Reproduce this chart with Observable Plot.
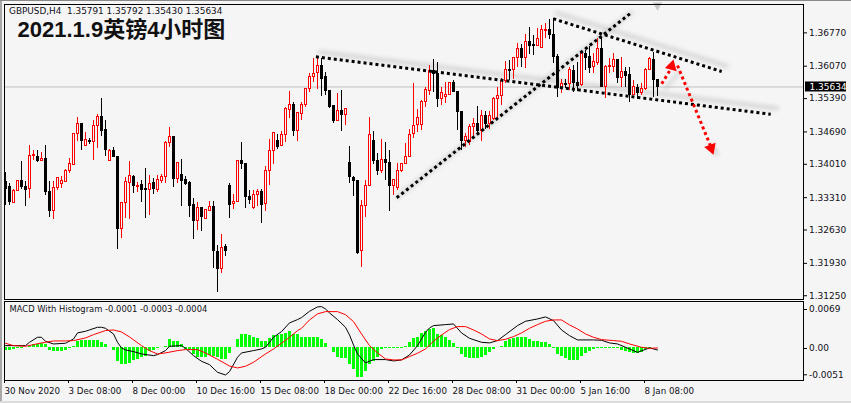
<!DOCTYPE html>
<html><head><meta charset="utf-8">
<script src="https://cdn.jsdelivr.net/npm/d3@7"></script>
<script src="https://cdn.jsdelivr.net/npm/@observablehq/plot@0.6"></script>
<style>
html,body{margin:0;padding:0;background:#f5f5f5;width:851px;height:403px;overflow:hidden}
#main,#macd{position:absolute;left:0}
#main{top:0}#macd{top:300px}
.s{position:absolute;background:#a8a8a8}
</style></head><body>
<div id="main"></div><div id="macd"></div>
<div class="s" style="left:0;top:0;width:2px;height:403px"></div>
<div class="s" style="left:0;top:0;width:851px;height:1px;background:#888"></div>
<div class="s" style="left:0;top:401px;width:851px;height:2px;background:#dcdcdc"></div>
<script>
// price points in 1e-5 units
const opens=[133634,133529,133193,133445,133655,133544,133487,134180,134159,134075,
134132,133439,133025,133517,133601,133634,133865,133991,134651,134861,
134390,134510,134474,134819,135014,134735,134075,134300,134174,132647,
133193,133613,133754,133544,133586,133502,133466,133613,133481,133670,
133739,134453,134594,133697,133796,133691,133628,133166,132815,133097,
132866,133040,133124,132179,131807,132269,133565,133172,133214,134084,
134027,133334,133103,133370,133439,133172,133874,134285,134510,134390,
134630,135155,135266,134705,135071,135260,135596,135839,135923,136085,
135854,135560,135239,134915,135140,135041,134048,133733,133670,132185,
133130,133559,134510,134090,133865,134105,134048,133550,133508,133865,
134021,134168,134642,134831,134831,135323,135560,135980,135911,135377,
135434,135461,135728,135539,135119,134510,134483,134789,134861,134705,
135029,134861,134957,135377,135449,135770,135995,135995,136247,136436,
136238,136574,136511,136490,136457,136820,136841,136736,136274,135617,
135701,135701,135980,135728,135671,136331,136259,136049,136148,136436,
135644,136049,136064,136205,135818,135959,135890,135476,135617,135518,
135587,135995,136211,135791];
const highs=[133844,133613,133475,133680,134069,133649,134405,134300,134300,134252,
134405,133649,133649,133735,133754,133895,134132,134660,134987,134870,
134684,134558,134930,135056,135386,134930,134321,134357,134174,133215,
133739,134069,133770,133634,133670,133922,133775,133706,133775,133796,
134489,134789,134600,134050,134111,133754,133640,133286,133208,133105,
133070,133229,133229,132305,132536,132326,133601,133370,134095,134468,
134030,133460,133460,133475,133481,133964,134525,134675,134630,134699,
135209,135539,135302,135105,135302,135610,135911,136226,136259,136226,
135932,135570,135250,135491,135560,135190,134384,133745,133680,133250,
133670,134987,134699,134231,134531,134468,134300,133695,134021,134035,
134453,134735,135713,135155,135340,135629,136085,136211,136142,135629,
135734,135734,135770,135545,135125,134651,134846,134966,135224,135140,
135119,135119,135407,135629,135806,136169,136190,136255,136553,136520,
136736,136877,136715,136856,136925,136961,137051,137066,136316,135791,
135791,136049,136085,136154,136400,136400,136490,136331,136646,136679,
136075,136226,136343,136215,136259,136049,136049,135770,135686,135713,
136016,136259,136352,135792];
const lows=[133145,133145,133181,133435,133475,133124,133298,134090,134054,134065,
133355,132899,132857,133460,133508,133625,133811,133980,134495,134300,
134380,134426,134090,134342,134594,134174,134065,134150,132227,132452,
132872,132857,133391,133424,133208,132872,132935,133376,133424,133613,
133613,134369,133529,133601,133124,133565,132899,132437,132620,132599,
132855,133013,131828,131324,131723,132074,132872,133067,133205,133901,
133082,133166,133061,133118,132773,133025,133565,134000,134315,134380,
134474,134978,134600,134495,134930,135209,135524,135734,135575,135434,
135455,135188,134873,134905,134705,134831,133613,133334,132116,131849,
132887,133550,134006,133781,133811,133670,133025,133361,133460,133844,
134010,134155,134558,134678,134720,135209,135455,135524,135209,135245,
135281,135455,135524,134720,134300,134369,134399,134579,134615,134489,
134735,134741,134930,134972,135245,135713,135770,135785,136037,136037,
136022,136310,136295,136480,136445,136652,136625,136121,135407,135491,
135596,135560,135524,135545,135644,135980,135911,135911,136085,135629,
135386,135923,135944,135701,135629,135629,135314,135455,135371,135455,
135560,135980,135419,135430];
const closes=[133496,133214,133460,133670,133529,133481,134195,134216,134075,134132,
133424,133025,133517,133727,133670,133880,134021,134651,134861,134510,
134525,134474,134825,135014,134720,134321,134300,134159,132647,133208,
133649,133769,133550,133559,133481,133466,133601,133502,133685,133754,
134468,134594,133697,134042,133670,133607,133145,132815,133097,132914,
133061,133124,132185,131807,132257,132200,133166,133223,134084,134012,
133319,133271,133370,133433,133151,133874,134294,134672,134369,134630,
135176,135266,134705,135098,135266,135596,135854,135911,136085,135797,
135545,135224,134915,135140,135041,135176,133739,133655,132158,133139,
133559,134630,134075,133865,134105,134033,133559,133685,133865,134021,
134168,134630,134819,134987,135323,135575,135980,135911,135377,135518,
135476,135728,135533,135104,134510,134594,134804,134861,134705,135029,
134861,135029,135386,135449,135770,135995,135980,136247,136436,136247,
136574,136490,136499,136646,136835,136841,136736,136259,135617,135701,
135686,135995,135713,135665,136343,136247,136037,136163,136436,135644,
136064,136085,136205,135827,135959,135875,135476,135644,135518,135602,
136001,136226,135785,135634];
const histogram=[-.0005,-.0004,-.0003,-.0002,-.0001,.0001,.0003,.0005,.0006,.0007,.0006,
-.0005,-.0006,-.0006,-.0006,-.0004,-.0001,.0003,.0011,.0013,.0013,
.0013,.0013,.0013,.0009,.0005,0,-.0005,-.0024,-.0029,-.0029,
-.0027,-.0022,-.0021,-.0018,-.0015,-.0006,-.0004,-.0002,0,.0002,
.0014,.0011,.0011,.0006,-.0003,-.0005,-.0012,-.0017,-.0018,-.0017,
-.0013,-.0015,-.0018,-.0021,-.0021,-.0011,0,.0014,.0024,.0024,
.0022,.0019,.0017,.0012,.0012,.0017,.0022,.0022,.0024,.0026,
.0029,.0023,.0024,.0019,.0018,.0018,.0018,.0018,
.0015,.0007,0,-.0009,-.0017,-.0019,-.0019,-.003,-.0039,-.0053,-.0053,-.0042,-.003,-.0024,-.0018,-.0003,
-.0002,-.0002,-.0002,-.0002,-.0002,.0003,.0009,.0017,.0019,.0025,.0029,.0033,.0035,.0024,.0022,.0018,.0013,.0007,
-.0001,-.0012,-.0017,-.0019,-.0019,-.0019,-.0017,-.0013,-.0009,-.0003,.0001,.0003,.0012,.0015,.0017,.0018,.0018,.0018,
.0015,.0012,.0011,.001,.0009,.0005,-.0001,-.0012,-.0015,-.0019,-.0023,-.0023,-.0023,-.0015,-.0011,-.0007,-.0003,
-.0001,-.0001,-.0002,-.0002,-.0002,-.0002,-.0005,-.0006,-.0009,-.001,-.0011,-.0008,-.0003,-.0001,.0001,.0001];
const macdBars=[0,2,5,6,8,9,10,12,15,17,18,20,21,23,24,25,27,28,29,30,32,34,37,38,40,41,44,45,47,49,51,53,55,56,58,59,62,64,65,67,69,71,73,74,76,78,79,80,81,83,85,86,87,88,90,92,95,97,99,101,103,105,106,107,110,112,114,116,119,121,123,125,128,130,133,135,137,139,141,143,147,149,151,153,155,158,161,163];
const macdValues=[.00038,.00038,.00038,.00097,.00186,.00186,.00115,.00068,.0008,.00156,.00263,.00292,.00316,.00363,.00363,.00345,.00245,.00097,-.00003,-.00038,-.00068,-.00109,-.00139,-.00121,-.0005,.00027,.00038,-.00009,-.00139,-.00239,-.00298,-.00434,-.00481,-.00422,-.00168,-.00091,-.0005,-.00021,.00009,.00186,.00286,.0044,.00499,.00534,.00646,.00723,.00729,.00687,.00617,.00499,.00363,.00227,.0005,-.00109,-.00268,-.00209,-.00209,-.00233,-.00215,-.00127,.00038,.00274,.00351,.00392,.0041,.00422,.00263,.00168,.00097,.00086,.00127,.00233,.00392,.00469,.0051,.00546,.00481,.00316,.00215,.00139,.00139,.00133,.00086,.00068,.00009,-.0008,-.00003,-.00038];
const signalBars=[0,2,5,7,9,12,15,17,20,22,25,27,29,31,34,36,38,40,43,45,48,50,53,56,58,60,62,65,67,69,71,73,74,76,78,80,83,85,87,89,91,93,95,97,99,101,103,105,107,109,111,113,115,117,119,121,123,125,127,129,131,133,135,137,139,141,143,145,147,149,152,154,156,159,161,163];
const signalValues=[.0008,.00038,.00027,.00056,.00086,.00121,.00121,.00127,.00174,.00233,.00304,.00316,.0028,.00192,.00038,-.0005,-.00109,-.00091,-.0005,-.00032,-.00032,-.00091,-.00204,-.00322,-.00357,-.00327,-.00257,-.00109,-.00021,.0008,.00186,.00304,.00345,.00493,.00599,.0064,.0064,.00587,.00463,.00245,.00038,-.00091,-.00198,-.00215,-.00215,-.00156,-.00097,-.00021,.00115,.00227,.00322,.00375,.00375,.00316,.00245,.00156,.00127,.0015,.00198,.00263,.00345,.0041,.00469,.00493,.00493,.00404,.00333,.00245,.00186,.00145,.00127,.00115,.00068,.00009,-.00009,-.00003];
const priceTicks=[1.3677,1.3607,1.3539,1.3469,1.3401,1.3331,1.3263,1.3193,1.3125];
const macdTicks=[0.0069,0,-0.0051];
const macdTickLabels=["0.0069","0.00","-0.0051"];
const timeTickBars=[0,16,32,48,64,80,96,112,128,144,160];
const timeTickLabels=["30 Nov 2020","3 Dec 08:00","8 Dec 00:00","10 Dec 16:00","15 Dec 08:00","18 Dec 00:00","22 Dec 16:00","28 Dec 08:00","31 Dec 00:00","5 Jan 16:00","8 Jan 08:00"];
const lastPrice=1.35634;
const headline="2021.1.9英镑4小时图";
const quoteLine="GBPUSD,H4\u00a0\u00a01.35791 1.35792 1.35430 1.35634";
const macdLine="MACD With Histogram -0.0001 -0.0003 -0.0004";
// annotations: [bar, price]
const lineA=[[77.6,1.36268],[191.3,1.35062]], lineB=[[97.8,1.33307],[156.1,1.37171]], lineC=[[136.95,1.37066],[179.05,1.35959]];
const shadeA=[[78.6,1.36364],[192.8,1.35188]], shadeB=[[98.05,1.33328],[156.35,1.37192]], shadeC=[[137.8,1.37183],[180.3,1.3607]];
const arrowUp=[[164.05,1.35701],[166.4,1.36022]], arrowDown=[[168,1.36085],[176.55,1.34336]];
const shadeUp=[[165,1.3560],[168.4,1.3595]], shadeDown=[[176.6,1.3440],[177.6,1.3424]];
const heads=[{b:166.55,p:1.3607,r:15},{b:176.4,p:1.34348,r:160}];
const marker=[{b:163,p:1.3735}];

const bg="#f5f5f5", font='"DejaVu Sans"', ink="#101018";
const candles=opens.map((o,i)=>({i,o:o/1e5,h:highs[i]/1e5,l:lows[i]/1e5,c:closes[i]/1e5,up:closes[i]>o}));
const xScale={domain:[-0.25,199.5],range:[4,803]};
const style={background:"transparent",fontFamily:font,fontSize:"9px",overflow:"visible"};
const bull=candles.filter(d=>d.up), bear=candles.filter(d=>!d.up);
const shade=(a,w=4)=>Plot.line(a,{x:"0",y:"1",stroke:"#b8b8b8",strokeWidth:w,imageFilter:"blur(2px)",strokeOpacity:.55});
const dotted=(a,c="#000")=>Plot.line(a,{x:"0",y:"1",stroke:c,strokeWidth:3,strokeDasharray:"3 3",strokeLinecap:"butt"});

const main=Plot.plot({
  width:851,height:301,marginLeft:4,marginRight:48,marginTop:4,marginBottom:2,
  x:{...xScale,axis:null},
  y:{domain:[1.31171,1.37366],range:[299,4],axis:null},
  style,
  marks:[
    Plot.ruleY([lastPrice],{stroke:"#c0c0c0"}),
    shade(shadeA),shade(shadeB),shade(shadeC),
    shade(shadeUp,3),shade(shadeDown,5),
    Plot.dot(marker,{x:"b",y:"p",symbol:"triangle",r:3.5,fill:"#c8c8c8",rotate:180}),
    Plot.ruleX(candles,{x:"i",y1:"l",y2:"h",stroke:d=>d.up?"#ff0000":"#000",shapeRendering:"crispEdges"}),
    Plot.rect(bull,{x1:d=>d.i-.25,x2:d=>d.i+.25,y1:"o",y2:"c",fill:bg,stroke:"#ff0000",strokeWidth:1,dx:.5,shapeRendering:"crispEdges"}),
    Plot.rect(bear,{x1:d=>d.i-.25,x2:d=>d.i+.25,y1:"o",y2:"c",fill:"#000",stroke:"#000",strokeWidth:1,dx:.5,shapeRendering:"crispEdges"}),
    dotted(lineA),dotted(lineB),dotted(lineC),
    dotted(arrowUp,"#ff0000"),dotted(arrowDown,"#ff0000"),
    Plot.dot(heads,{x:"b",y:"p",symbol:"triangle",r:4.5,fill:"#ff0000",rotate:"r"}),
    Plot.frame({stroke:"#000"}),
    Plot.axisY({anchor:"right",ticks:priceTicks,tickFormat:d3.format(".5f"),tickSize:3,tickPadding:2.5,fill:ink,stroke:"#000"}),
    Plot.rect([lastPrice],{x1:[200],x2:[210.25],y1:d=>d-.00105,y2:d=>d+.00105,fill:"#000"}),
    Plot.text([lastPrice],{x:[201],y:d=>d,text:d=>d.toFixed(5),textAnchor:"start",fill:"#fff"}),
    Plot.text([quoteLine],{frameAnchor:"top-left",dx:4.5,dy:3,textAnchor:"start",fill:ink,lineAnchor:"top",fontSize:8.9}),
    Plot.text([headline],{frameAnchor:"top-left",dx:13,dy:16.5,textAnchor:"start",lineAnchor:"top",fill:"#111",fontSize:22,fontWeight:"bold",fontFamily:'"Liberation Sans","Noto Sans CJK SC"'})
  ]
});
document.getElementById("main").append(main);

const macd=Plot.plot({
  width:851,height:103,marginLeft:4,marginRight:48,marginTop:1,marginBottom:23,
  x:{...xScale,axis:null},
  y:{domain:[-.00579,.00819],range:[80,1],axis:null},
  style,
  marks:[
    Plot.ruleX(histogram.map((v,i)=>({i,v})),{x:"i",y1:0,y2:"v",stroke:"#00ff00",strokeWidth:3,shapeRendering:"crispEdges"}),
    Plot.line(macdBars.map((b,k)=>[b,macdValues[k]]),{x:"0",y:"1",stroke:"#000",strokeWidth:1}),
    Plot.line(signalBars.map((b,k)=>[b,signalValues[k]]),{x:"0",y:"1",stroke:"#ff0000",strokeWidth:1}),
    Plot.frame({stroke:"#000"}),
    Plot.axisY({anchor:"right",ticks:macdTicks.slice(0,2),tickFormat:d=>macdTickLabels[macdTicks.indexOf(d)],tickSize:3,tickPadding:2.5,dy:.7,fill:ink,stroke:"#000"}),
    Plot.axisY({anchor:"right",ticks:macdTicks.slice(2),tickFormat:d=>macdTickLabels[macdTicks.indexOf(d)],tickSize:3,tickPadding:2.5,dy:-1.8,fill:ink,stroke:"#000"}),
    Plot.axisX({anchor:"bottom",ticks:timeTickBars,tickFormat:d=>timeTickLabels[timeTickBars.indexOf(d)],tickSize:3,tickPadding:4,textAnchor:"start",dx:-1,fill:ink,stroke:"#000",fontSize:8.7}),
    Plot.text([macdLine],{frameAnchor:"top-left",dx:5,dy:5,textAnchor:"start",fill:ink,lineAnchor:"top",fontSize:8.4})
  ]
});
document.getElementById("macd").append(macd);
</script>
</body></html>
